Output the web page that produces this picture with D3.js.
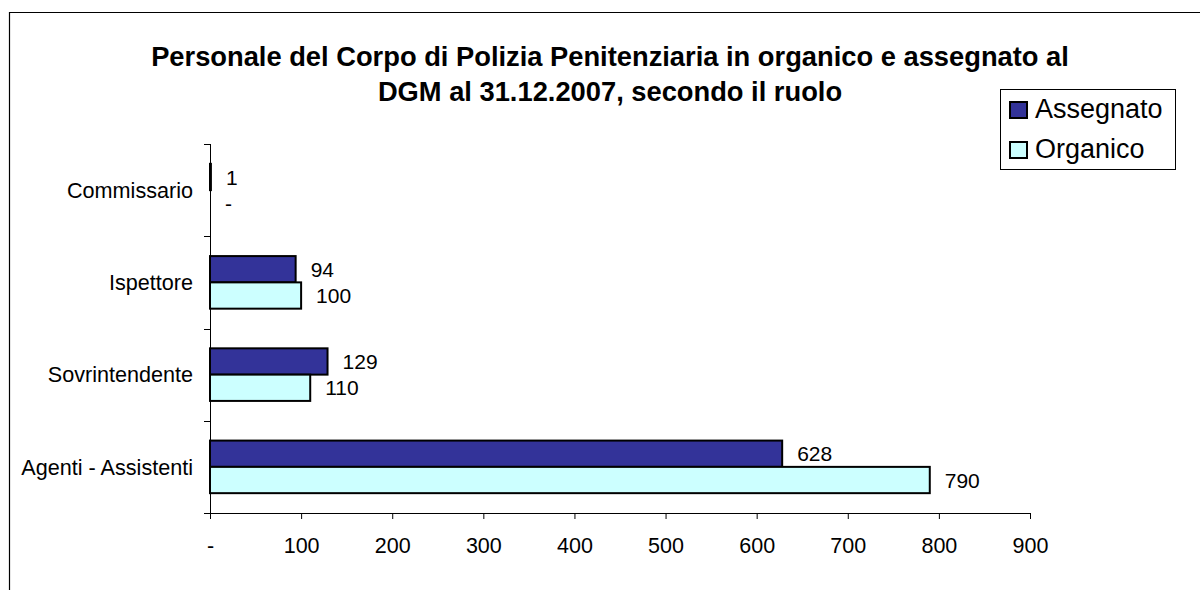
<!DOCTYPE html>
<html><head><meta charset="utf-8">
<script src="https://cdn.jsdelivr.net/npm/d3@7"></script>
<style>body{margin:0;background:#fff;} text{font-family:Arial,"Liberation Sans",sans-serif;}</style>
</head><body>
<svg id="c" width="1200" height="590"></svg>
<script>
const categories = ["Commissario","Ispettore","Sovrintendente","Agenti - Assistenti"];
const seriesNames = ["Assegnato","Organico"];
const assegnato = [1,94,129,628];
const organico = [0,100,110,790];
const xTicks = [0,100,200,300,400,500,600,700,800,900];
const titleLines = ["Personale del Corpo di Polizia Penitenziaria in organico e assegnato al","DGM al 31.12.2007, secondo il ruolo"];
const colors = ["#333399","#CCFFFF"];

const svg = d3.select("#c");
// outer frame
svg.append("path").attr("d","M9.5,590 V12.5 H1200").attr("fill","none").attr("stroke","#000").attr("stroke-width",1.2);

const x = d3.scaleLinear().domain([0,900]).range([210,1030]);
const y = d3.scaleBand().domain(categories).range([144,513]);
const inner = d3.scaleBand().domain(seriesNames).range([y.bandwidth()*0.215, y.bandwidth()*0.785]);

const g = svg.append("g");
const data = [assegnato, organico];
categories.forEach((c,i)=>{
  seriesNames.forEach((s,j)=>{
    const v = data[j][i];
    const y0 = y(c)+inner(s);
    if (v>0) {
      g.append("rect").attr("x",x(0)).attr("y",y0).attr("width",x(v)-x(0)).attr("height",inner.bandwidth())
        .attr("fill",colors[j]).attr("stroke","#000").attr("stroke-width",2);
    }
    g.append("text").attr("x",x(v)+15).attr("y",y0+inner.bandwidth()/2).attr("dy","0.36em")
      .attr("font-size",21).text(v===0?"-":v);
  });
});

// x axis
const xa = svg.append("g").attr("transform","translate(0,513)")
  .call(d3.axisBottom(x).tickValues(xTicks).tickSize(6).tickFormat(d=>d===0?"-":d));
xa.selectAll("text").attr("font-size",21.5).attr("fill","#000").attr("dy","0").attr("y",40).style("font-family","Arial, 'Liberation Sans', sans-serif");
xa.select(".domain").attr("d","M210,0.5H1030").attr("stroke","#000");
xa.selectAll(".tick line").attr("stroke","#000");

// y axis
const ya = svg.append("g").attr("transform","translate(210,0)");
ya.append("line").attr("x1",0.5).attr("x2",0.5).attr("y1",144).attr("y2",513).attr("stroke","#000");
const bounds = categories.map(c=>y(c)).concat([y.range()[1]]);
bounds.forEach(b=>ya.append("line").attr("x1",-6).attr("x2",0).attr("y1",Math.round(b)+0.5).attr("y2",Math.round(b)+0.5).attr("stroke","#000"));
categories.forEach(c=>{
  ya.append("text").attr("x",-17).attr("y",y(c)+y.bandwidth()/2).attr("dy","0.36em")
    .attr("text-anchor","end").attr("font-size",21.6).text(c);
});

// title
titleLines.forEach((t,i)=>{
  svg.append("text").attr("x",610).attr("y",66+i*35).attr("text-anchor","middle")
    .attr("font-size",27.3).attr("font-weight","bold").text(t);
});

// legend
const lg = svg.append("g");
lg.append("rect").attr("x",1000.5).attr("y",89.5).attr("width",175).attr("height",80).attr("fill","#fff").attr("stroke","#000").attr("stroke-width",1);
seriesNames.forEach((s,j)=>{
  const base = 118 + j*40;
  lg.append("rect").attr("x",1010).attr("y",base-16).attr("width",17).attr("height",16).attr("fill",colors[j]).attr("stroke","#000").attr("stroke-width",2);
  lg.append("text").attr("x",1035).attr("y",base).attr("font-size",27).text(s);
});
</script>
</body></html>
